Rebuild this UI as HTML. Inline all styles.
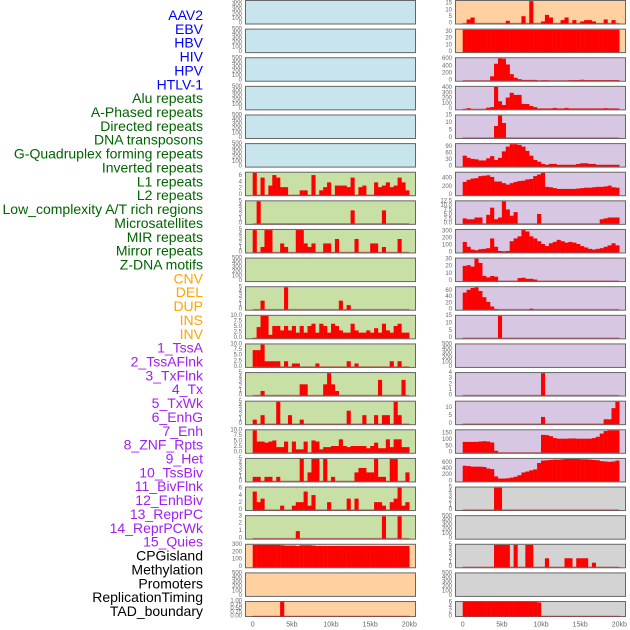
<!DOCTYPE html>
<html><head><meta charset="utf-8">
<style>
html,body{margin:0;padding:0;background:#fff;}
svg{display:block;font-family:"Liberation Sans",sans-serif;}
</style></head>
<body>
<svg id="chart" width="630" height="630" viewBox="0 0 630 630" xmlns="http://www.w3.org/2000/svg">
<g id="labels"></g>
<g id="panels"></g>
<g id="xaxis"></g>
</svg>
<script>
// ---- data (40 bins of 0.5kb across 0-20kb) ----
const labelNames = ["AAV2","EBV","HBV","HIV","HPV","HTLV-1","Alu repeats","A-Phased repeats","Directed repeats","DNA transposons","G-Quadruplex forming repeats","Inverted repeats","L1 repeats","L2 repeats","Low_complexity A/T rich regions","Microsatellites","MIR repeats","Mirror repeats","Z-DNA motifs","CNV","DEL","DUP","INS","INV","1_TssA","2_TssAFlnk","3_TxFlnk","4_Tx","5_TxWk","6_EnhG","7_Enh","8_ZNF_Rpts","9_Het","10_TssBiv","11_BivFlnk","12_EnhBiv","13_ReprPC","14_ReprPCWk","15_Quies","CPGisland","Methylation","Promoters","ReplicationTiming","TAD_boundary"];
const labelGroups = [0,0,0,0,0,0,1,1,1,1,1,1,1,1,1,1,1,1,1,2,2,2,2,2,3,3,3,3,3,3,3,3,3,3,3,3,3,3,3,4,4,4,4,4];
const xTickLabels = ["0","5kb","10kb","15kb","20kb"];
const xTickValues = [0,5,10,15,20];

const alu = [7,0,5.5,0,3,6.3,5.5,2.5,2.5,0, 0,0,1.5,1.5,0,6.3,0,1.5,2.5,4, 0,3,3,3,2.5,5.5,0,2.5,3,0, 0,4,2.5,3,4,2.5,3,5.5,4,1.5];
const aphased = [0,5,0,0,0,0,0,0,0,0, 0,0,0,0,0,0,0,0,0,0, 0,0,0,0,0,3,0,0,0,0, 0,0,0,3,0,0,0,0,0,0];
const directed = [5,0,1.2,5,5,0,0,2,1.2,0, 0,5,5,2,1.2,2,0,0,2,2, 0,3,0,0,0,0,3,0,0,0, 2,2,0,1.2,0,0,0,3,0,0];
const gquad = [0,0,2,0,0,0,0,0,5,0, 0,0,0,0,0,0,0,0,0,0, 0,0,2,0,1,0,0,0,0,0, 0,0,0,0,0,0,0,0,0,0];
const inverted = [0,5,10,10,1.5,5.5,5.5,3.5,5.5,3.5, 5.5,2.5,5.5,2.5,5.5,6.5,2.5,6.5,5.5,2.5, 6.5,5.5,3.5,2.5,2.5,6.5,3.5,2.5,2.5,3.5, 2.5,4.5,2.5,6.5,3.5,2.5,5.5,6.5,2.5,2.5];
const l1 = [7.5,7.5,10,2.5,2.5,2.5,2.5,0,2.5,0, 1.5,1.5,0,0,0,0,1.5,0,0,0, 0,0,0,0,2.5,0,1.5,0,0,0, 0,0,0,0,0,2.5,0,2.5,0,0];
const l2 = [0,0,1,0,0,0,0,0,0,0, 0,0,2.5,2.5,0,0,0,0,2.5,5, 2.5,1,0,0,0,0,0,0,0,0, 0,0,3.5,0,0,0,0,0,3.5,0];
const lowcomp = [1,0,2,0,0,0,5,0,0,2, 0,0,1,0,0,0,0,0,0,0, 0,0,0,0,3,0,0,0,2,0, 0,2,0,2,2,0,5,2,0,0];
const micro = [10,5,5,4.5,5,5.5,2.5,2.5,5,0, 5,1.5,1.5,5,0,5.5,5,1.5,2.5,2.5, 3,3,6,3,2.5,3,3,3,3,2, 3,4.5,2,2,6,2.5,6,6,2.5,2.5];
const mir = [1,1,0,1,1,0,1,0,0,0, 0,0,5,0,2,5,5,0,5,0, 1,0,0,0,0,0,2,3,3,2, 2,5,1,1,0,5,5,0,0,2];
const mirror = [5.2,2.2,3.2,0,0,0,0,1.2,0,0, 1.2,2.2,2.2,5.2,1.2,4.2,0,0,0,2.2, 0,0,0,0,3.2,0,3.2,0,0,0, 0,2.2,2.2,1.2,0,2.2,3.2,6.3,1.2,2.2];
const zdna = [0,0,0,0,0,0,0,0,0,0, 0,1,0,0,0,0,0,0,0,0, 0,0,0,0,0,0,0,0,0,0, 0,0,0,3,0,0,0,3,0,0];
const cnv = [300,300,300,300,300,300,300,295,290,290, 290,285,295,295,295,290,285,285,285,285, 285,285,285,285,285,285,285,285,285,285, 285,285,285,285,285,285,285,285,285,285];
const dup = [0,0,0,0,0,0,0,1,0,0, 0,0,0,0,0,0,0,0,0,0, 0,0,0,0,0,0,0,0,0,0, 0,0,0,0,0,0,0,0,0,0];
const ins = [0,3,4.5,0,0,0,0,0,0,0, 0,2,0,0,0,5.5,0,17,0,0, 1.5,6.5,4.5,0,0,2.5,4.5,0,2.5,0, 1.5,2.5,2.5,1.5,0,0,3,0,2.5,0];
const inv = [33,33,33,33,33,33,33,33,33,33, 33,33,33,33,33,33,33,33,33,33, 33,33,33,33,33,33,33,33,33,33, 33,33,33,33,33,33,33,33,33,33];
const tssa = [0,0,0,0,0,0,0,120,470,620, 610,450,180,80,40,20,20,20,20,0, 10,10,0,0,0,0,0,15,15,15, 25,15,15,15,15,15,15,15,15,15];
const tssaflnk = [0,20,0,0,0,0,30,40,420,150, 80,220,310,270,270,100,100,60,40,15, 15,15,15,25,15,15,25,15,15,15, 15,15,15,15,15,15,20,15,15,15];
const txflnk = [0,0,0,0,0,0,0,0,8,15, 10,0,0,0,0,0,0,0,0,0, 0,0,0,0,0,0,0,0,0,0, 0,0,0,0,0,0,0,0,0,0];
const tx = [50,40,35,33,28,28,38,48,30,40, 70,92,103,103,100,92,72,50,30,22, 12,8,12,12,8,8,8,8,8,12, 15,15,12,12,8,8,8,8,8,8];
const txwk = [320,370,400,410,460,470,480,440,330,330, 290,255,290,320,340,350,380,390,460,500, 540,200,190,170,150,150,150,150,150,160, 170,180,180,190,200,200,210,230,190,180];
const enhg = [3,2.5,2.5,3.5,3.5,0,5,9,2.5,3.5, 12.5,8,4.5,6.5,0,0,0,0,0,5.5, 0,0,0,0,0,0,0,0,0,0, 0,0,0,0,0,2.5,3,3.5,3.5,3.5];
const enh = [150,80,40,30,45,50,60,200,80,20, 15,20,160,200,230,320,300,230,200,160, 120,90,130,150,180,160,140,150,140,120, 90,70,50,40,50,60,80,100,130,100];
const znf = [21,22,20,31,25,7,5,7,6,0, 0,0,0,0,4,4.5,3,3,2,0, 0,0,0,0,0,0,0,0,0,0, 0,0,0,0,0,0,0,0,0,0];
const het = [55,64,70,72,60,40,25,10,2,0, 0,0,0,0,0,0,0,3,0,0, 0,0,0,0,0,0,0,0,0,0, 0,0,0,0,0,0,0,0,0,0];
const tssbiv = [0,0,0,0,0,0,0,0,0,15, 0,0,0,0,0,0,0,0,0,0, 0,0,0,0,0,0,0,0,0,0, 0,0,0,0,0,0,0,0,0,0];
const enhbiv = [0,0,0,0,0,0,0,0,0,0, 0,0,0,0,0,0,0,0,0,0, 4,0,0,0,0,0,0,0,0,0, 0,0,0,0,0,0,0,0,0,0];
const reprpc = [0,0,0,0,0,0,0,0,0,0, 0,0,0,0,0,0,0,0,0,0, 4.5,0,0,0,0,0,0,0,0,0, 0,0,0,0,0,0,3,3,10,14];
const reprpcwk = [85,85,85,85,88,90,88,80,15,0, 0,0,0,0,0,0,0,0,0,0, 140,138,130,115,110,110,110,112,112,110, 110,110,110,115,125,150,170,175,175,175];
const quies = [510,500,480,480,480,470,420,400,160,90, 90,100,120,150,200,290,320,360,390,600, 680,690,700,710,710,720,730,730,730,730, 720,720,710,700,690,660,650,640,650,680];
const cpg = [0,0,0,0,0,0,0,0,5,5, 0,0,0,0,0,0,0,0,0,0, 0,0,0,0,0,0,0,0,0,0, 0,0,0,0,0,0,0,0,0,0];
const promoters = [0,0,0,0,0,0,0,0,5,5, 5,5,0,5,0,0,5,5,0,0, 0,2,0,0,0,0,2,2,0,2, 2,2,0,1,0,0,0,0,0,0];
const tad = [6.3,6.3,6.3,6.3,6.3,6.3,6.3,6.3,6.3,6.3, 6.3,6.3,6.3,6.3,6.3,6.3,6.3,6.3,6.3,6, 0,0,0,0,0,0,0,0,0,0, 0,0,0,0,0,0,0,0,0,0];

const T500 = ["0","100","200","300","400","500"];
const T5 = ["0","1","2","3","4","5"];
const T10 = ["0.0","2.5","5.0","7.5","10.0"];
const T6 = ["0","2","4","6"];

// ---- layout ----
const BG = ["#c8e4ec","#c8e0a6","#ffd1a1","#d8c7e3","#d3d3d3"];
const LABEL_COLORS = ["#0000ff","#006400","#ffa500","#a020f0","#000000"];
const COLX = [245,455], PW = 171, ROWSTEP = 28.62, PH = 24.5, LASTH = 16;
const X0 = [252.7,462.7], XS = 7.83, BIN = 0.5;

// panel definitions: [data, tick labels, bg index]
const leftPanels = [
 [null,T500,0],[null,T500,0],[null,T500,0],[null,T500,0],[null,T500,0],[null,T500,0],
 [alu,T6,1],[aphased,T5,1],[directed,T5,1],[null,T500,1],[gquad,T5,1],[inverted,T10,1],
 [l1,T10,1],[l2,T5,1],[lowcomp,T5,1],[micro,T10,1],[mir,T5,1],[mirror,T6,1],[zdna,["0","1","2","3"],1],
 [cnv,["0","100","200","300"],2],[null,T500,2],[dup,["0.00","0.25","0.50","0.75","1.00"],2]
];
const rightPanels = [
 [ins,["0","5","10","15"],2],[inv,["0","10","20","30"],2],
 [tssa,["0","200","400","600"],3],[tssaflnk,["0","100","200","300","400"],3],[txflnk,["0","5","10","15"],3],
 [tx,["0","30","60","90"],3],[txwk,["0","200","400"],3],[enhg,["0.0","2.5","5.0","7.5","10.0","12.5"],3],
 [enh,["0","100","200","300"],3],[znf,["0","10","20","30"],3],[het,["0","20","40","60"],3],
 [tssbiv,["0","5","10","15"],3],[null,T500,3],[enhbiv,["0","1","2","3","4"],3],[reprpc,["0","5","10"],3],
 [reprpcwk,["0","50","100","150"],3],[quies,["0","200","400","600"],3],
 [cpg,T5,4],[null,T500,4],[promoters,T5,4],[null,T500,4],[tad,T6,4]
];

const NS = "http://www.w3.org/2000/svg";
function mk(tag, attrs, parent){
  const e = document.createElementNS(NS, tag);
  for (const k in attrs) e.setAttribute(k, attrs[k]);
  parent.appendChild(e);
  return e;
}

// labels
const lg = document.getElementById("labels");
labelNames.forEach((n,i)=>{
  const t = mk("text",{x:203,y:15+i*13.86,"text-anchor":"end","dominant-baseline":"central","font-size":"14",fill:LABEL_COLORS[labelGroups[i]]},lg);
  t.textContent = n;
  
  
});

const pg = document.getElementById("panels");
function drawPanel(def, col, row, idx){
  const data = def[0], ticks = def[1];
  const top = row*ROWSTEP, h = (row===21? LASTH : PH);
  const g = mk("g",{},pg);
  
  
  const bg = mk("rect",{x:COLX[col]+0.5,y:top+0.5,width:PW-1,height:h-1,fill:BG[def[2]],stroke:"#666","stroke-width":1},g);
  
  
  const tickNums = ticks.map(Number);
  let M = data ? Math.max(...data) : tickNums[tickNums.length-1];
  if (M <= 0) M = 1;
  const lo = -0.05*M, hi = 1.05*M;
  const y = v => top + h - (v-lo)/(hi-lo)*h;
  const x = kb => X0[col] + kb*XS;
  // ticks
  ticks.forEach((lab,i)=>{
    const t = mk("text",{x:COLX[col]-3,y:y(tickNums[i]),"text-anchor":"end","dominant-baseline":"central","font-size":"6",fill:"#666"},g);
    t.textContent = lab;
    
    
  });
  if (!data) return;
  data.forEach((v,i)=>{
    if (v<=0) return;
    const r = mk("rect",{x:x(i*BIN),y:y(v),width:BIN*XS+0.2,height:y(0)-y(v),fill:"#ff0000"},g);
    
    
  });
  const base = mk("line",{x1:x(0),x2:x(20),y1:y(0),y2:y(0),stroke:"rgba(170,40,40,0.5)","stroke-width":1.3},g);
  
  
}
leftPanels.forEach((d,r)=>drawPanel(d,0,r,r));
rightPanels.forEach((d,r)=>drawPanel(d,1,r,22+r));

// x axis
const xg = document.getElementById("xaxis");
[0,1].forEach(col=>{
  xTickValues.forEach((v,i)=>{
    const t = mk("text",{x:X0[col]+v*XS,y:625,"text-anchor":"middle","dominant-baseline":"central","font-size":"7",fill:"#666"},xg);
    t.textContent = xTickLabels[i];
    
    
  });
});
</script>
</body></html>
